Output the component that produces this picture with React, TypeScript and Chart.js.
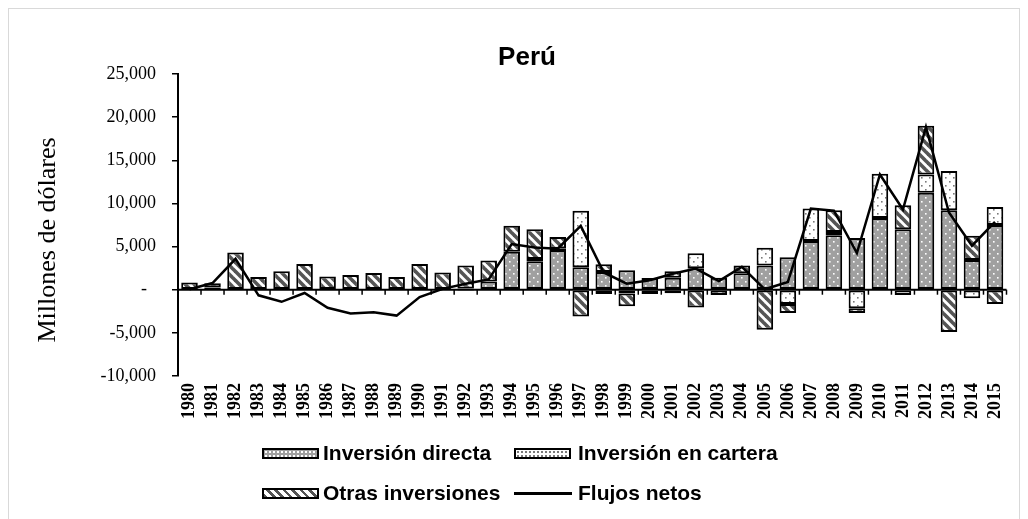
import React, { useEffect, useRef } from "react";
import { Chart, registerables } from "chart.js";

Chart.register(...registerables);

const years = [
  "1980", "1981", "1982", "1983", "1984", "1985", "1986", "1987", "1988", "1989",
  "1990", "1991", "1992", "1993", "1994", "1995", "1996", "1997", "1998", "1999",
  "2000", "2001", "2002", "2003", "2004", "2005", "2006", "2007", "2008", "2009",
  "2010", "2011", "2012", "2013", "2014", "2015",
];

const inversionDirecta = [
  0, 250, 0, 0, 0, 0, 0, 0, 0, 0,
  0, 0, 150, 950, 4400, 3300, 4600, 2600, 2050, 2250,
  1350, 1400, 2500, 1400, 1900, 2800, 3750, 5650, 6300, 6000,
  8300, 7000, 11250, 9200, 3450, 7500,
];

const inversionCartera = [
  0, 0, 0, 0, 0, 0, 0, 0, 0, 0,
  0, 0, -150, 0, 0, 250, 150, 6550, -500, -450,
  -500, -400, 1740, 0, 0, 2050, -1650, 3750, 400, -2150,
  5150, -600, 2100, 4550, -1000, 2100,
];

const otrasInversiones = [
  840, 500, 4300, 1470, 2150, 2970, 1540, 1700, 1930, 1470,
  2970, 2000, 2650, 2430, 3000, 3450, 1350, -3100, 900, -1480,
  0, 750, -2050, -600, 900, -4650, -1050, 0, 2500, -550,
  0, 2800, 5650, -4900, 2800, -1650,
];

const flujosNetos = [
  50, 770, 3580, -650, -1400, -380, -2100, -2750, -2600, -3000,
  -850, 100, 700, 1200, 5300, 4900, 4750, 7400, 2000, 700,
  1100, 1850, 2450, 1000, 2650, 50, 900, 9400, 9150, 4250,
  13350, 9300, 18850, 8950, 5100, 7850,
];

const yMin = -10000;
const yMax = 25000;
const yStep = 5000;

const titleText = "Perú";
const yTitleText = "Millones de dólares";
const legendLabels = ["Inversión directa", "Inversión en cartera", "Otras inversiones", "Flujos netos"];

const SERIF = "'Liberation Serif', 'Times New Roman', serif";
const SANS = "'Liberation Sans', Arial, sans-serif";

function makeTile(size: number, draw: (c: CanvasRenderingContext2D) => void): CanvasPattern | string {
  const cv = document.createElement("canvas");
  cv.width = size;
  cv.height = size;
  const c = cv.getContext("2d");
  if (!c) return "#999";
  draw(c);
  const p = c.createPattern(cv, "repeat");
  return p || "#999";
}

function dotsPattern(bg: string, dot: string) {
  return makeTile(8, (c) => {
    c.fillStyle = bg;
    c.fillRect(0, 0, 8, 8);
    c.fillStyle = dot;
    c.fillRect(1, 1, 1.6, 1.6);
    c.fillRect(5, 5, 1.6, 1.6);
  });
}

function stripesPattern() {
  const s = 9;
  return makeTile(s, (c) => {
    c.fillStyle = "#ffffff";
    c.fillRect(0, 0, s, s);
    c.strokeStyle = "#555555";
    c.lineWidth = 3.6;
    for (let k = -1; k <= 1; k++) {
      c.beginPath();
      c.moveTo(k * s - 2, -2);
      c.lineTo(k * s + s + 2, s + 2);
      c.stroke();
    }
  });
}

const nz = (arr: number[]) => arr.map((v) => (v === 0 ? null : v));

const zeroAxisPlugin = {
  id: "zeroAxis",
  beforeDatasetsDraw(chart: any) {
    const { ctx, chartArea, scales } = chart;
    const y0 = scales.y.getPixelForValue(0);
    const n = years.length;
    const w = (chartArea.right - chartArea.left) / n;
    ctx.save();
    ctx.strokeStyle = "#000";
    ctx.lineWidth = 2;
    ctx.beginPath();
    ctx.moveTo(chartArea.left, y0);
    ctx.lineTo(chartArea.right, y0);
    ctx.stroke();
    ctx.lineWidth = 1.5;
    for (let i = 0; i <= n; i++) {
      const x = chartArea.left + i * w;
      ctx.beginPath();
      ctx.moveTo(x, y0);
      ctx.lineTo(x, y0 + 5);
      ctx.stroke();
    }
    ctx.restore();
  },
};

const yTitlePlugin = {
  id: "yTitle",
  afterDraw(chart: any) {
    const { ctx } = chart;
    ctx.save();
    ctx.translate(48, 240);
    ctx.rotate(-Math.PI / 2);
    ctx.font = `26px ${SERIF}`;
    ctx.fillStyle = "#000";
    ctx.textAlign = "center";
    ctx.textBaseline = "middle";
    ctx.fillText(yTitleText, 0, 0);
    ctx.restore();
  },
};

const swatchBase: React.CSSProperties = {
  position: "absolute",
  width: 57,
  height: 11,
  border: "2px solid #000",
  boxSizing: "border-box",
};

const legendText: React.CSSProperties = {
  position: "absolute",
  fontFamily: SANS,
  fontWeight: "bold",
  fontSize: 21,
  color: "#000",
  lineHeight: "24px",
  whiteSpace: "nowrap",
};

export default function App() {
  const ref = useRef<HTMLCanvasElement | null>(null);

  useEffect(() => {
    const canvas = ref.current;
    if (!canvas) return;
    const fdiPat = dotsPattern("#a0a0a0", "#ffffff");
    const portPat = dotsPattern("#ffffff", "#7a7a7a");
    const otrPat = stripesPattern();

    const chart = new Chart(canvas, {
      type: "bar",
      data: {
        labels: years,
        datasets: [
          {
            type: "line",
            label: legendLabels[3],
            data: flujosNetos,
            borderColor: "#000",
            borderWidth: 2.5,
            pointRadius: 0,
            tension: 0,
            fill: false,
            stack: "net",
            order: 0,
          } as any,
          {
            type: "bar",
            label: legendLabels[0],
            data: nz(inversionDirecta),
            backgroundColor: fdiPat as any,
            borderColor: "#000",
            borderWidth: 2,
            borderSkipped: false,
            stack: "inv",
            order: 1,
          },
          {
            type: "bar",
            label: legendLabels[1],
            data: nz(inversionCartera),
            backgroundColor: portPat as any,
            borderColor: "#000",
            borderWidth: 2,
            borderSkipped: false,
            stack: "inv",
            order: 1,
          },
          {
            type: "bar",
            label: legendLabels[2],
            data: nz(otrasInversiones),
            backgroundColor: otrPat as any,
            borderColor: "#000",
            borderWidth: 2,
            borderSkipped: false,
            stack: "inv",
            order: 1,
          },
        ],
      },
      options: {
        responsive: false,
        animation: false,
        datasets: { bar: { categoryPercentage: 1, barPercentage: 0.72 } },
        layout: { padding: { left: 47.5, right: 21.5, top: 0, bottom: 93 } },
        plugins: {
          legend: { display: false },
          tooltip: { enabled: false },
          title: {
            display: true,
            text: titleText,
            color: "#000",
            font: { family: SANS, size: 26, weight: "bold" },
            padding: { top: 42, bottom: 0.8 },
          },
        },
        scales: {
          x: {
            stacked: true,
            grid: { display: false, drawTicks: false },
            border: { display: false },
            ticks: {
              color: "#000",
              font: { family: SERIF, size: 18, weight: "bold" },
              minRotation: 90,
              maxRotation: 90,
              autoSkip: false,
              padding: 7,
            },
            afterFit: (s: any) => {
              s.height = 50;
            },
          },
          y: {
            stacked: true,
            min: yMin,
            max: yMax,
            border: { display: true, color: "#000", width: 2 },
            grid: {
              drawOnChartArea: false,
              drawTicks: true,
              tickLength: 6,
              color: "#000",
              lineWidth: 1.5,
            },
            ticks: {
              stepSize: yStep,
              color: "#000",
              padding: 16,
              font: { family: SERIF, size: 18 },
              callback: (v: any) => (Number(v) === 0 ? "-\u00a0\u00a0" : Number(v).toLocaleString("en-US")),
            },
            title: { display: false },
            afterFit: (s: any) => {
              s.width = 130.5;
            },
          },
        },
      },
      plugins: [zeroAxisPlugin, yTitlePlugin],
    });
    return () => chart.destroy();
  }, []);

  const dotsCss = (bg: string, dot: string): React.CSSProperties => ({
    backgroundColor: bg,
    backgroundImage: `radial-gradient(${dot} 0.9px, transparent 1.2px)`,
    backgroundSize: "4px 4px",
  });
  const stripesCss: React.CSSProperties = {
    backgroundColor: "#fff",
    backgroundImage: "repeating-linear-gradient(45deg, #555 0px, #555 2.5px, #fff 2.5px, #fff 6px)",
  };

  const row1 = 453;
  const row2 = 493;
  const c1 = 262;
  const c2 = 514;

  return (
    <div style={{ position: "fixed", left: 0, top: 0, width: 1028, height: 519, overflow: "hidden", background: "#fff" }}>
      <div
        style={{
          position: "absolute",
          left: 8,
          top: 8,
          width: 1012,
          height: 540,
          border: "1px solid #d9d9d9",
          boxSizing: "border-box",
        }}
      />
      <canvas ref={ref} width={1028} height={519} style={{ position: "absolute", left: 0, top: 0, width: 1028, height: 519 }} />
      <div style={{ ...swatchBase, left: c1, top: row1 - 5, ...dotsCss("#a0a0a0", "#fff") }} />
      <div style={{ ...legendText, left: c1 + 61, top: row1 - 12 }}>{legendLabels[0]}</div>
      <div style={{ ...swatchBase, left: c2, top: row1 - 5, ...dotsCss("#fff", "#7a7a7a") }} />
      <div style={{ ...legendText, left: c2 + 64, top: row1 - 12 }}>{legendLabels[1]}</div>
      <div style={{ ...swatchBase, left: c1, top: row2 - 5, ...stripesCss }} />
      <div style={{ ...legendText, left: c1 + 61, top: row2 - 12 }}>{legendLabels[2]}</div>
      <div style={{ position: "absolute", left: c2, top: row2 - 1, width: 58, height: 2.5, background: "#000" }} />
      <div style={{ ...legendText, left: c2 + 64, top: row2 - 12 }}>{legendLabels[3]}</div>
    </div>
  );
}
